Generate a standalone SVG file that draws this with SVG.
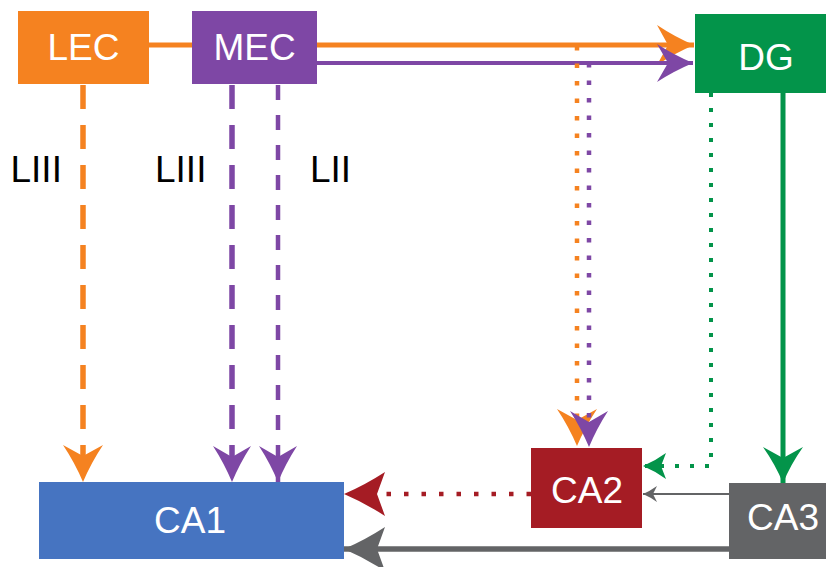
<svg xmlns="http://www.w3.org/2000/svg" width="826" height="567" viewBox="0 0 826 567">
  <style>
    .box-label { font-family: "Liberation Sans", Arial, Helvetica, sans-serif; font-size: 37px; fill: #ffffff; text-anchor: middle; }
    .layer { font-family: "Liberation Sans", Arial, Helvetica, sans-serif; font-size: 37px; fill: #000000; }
    .edge { fill: none; stroke-linecap: butt; }
    .orange { stroke: #F58220; }
    .purple { stroke: #7E47A5; }
    .green { stroke: #03944A; }
    .red { stroke: #A51C24; }
    .gray { stroke: #636466; }
    .dash-long { stroke-dasharray: 24 16; }
    .dash-short { stroke-dasharray: 15 15; }
    .dot { stroke-dasharray: 4.5 13; }
    .dot-green { stroke-dasharray: 4 11; }
  </style>
  <defs>
    <!-- concave arrowheads, tip at the path end -->
    <marker id="head-orange" markerUnits="userSpaceOnUse" viewBox="-40 -22 42 44" refX="0" refY="0" markerWidth="42" markerHeight="44" orient="auto" overflow="visible">
      <path d="M0,0 Q-19,-8 -37,-20 L-26,0 L-37,20 Q-19,8 0,0 Z" fill="#F58220"/>
    </marker>
    <marker id="head-purple" markerUnits="userSpaceOnUse" viewBox="-40 -22 42 44" refX="0" refY="0" markerWidth="42" markerHeight="44" orient="auto" overflow="visible">
      <path d="M0,0 Q-19,-8 -36,-19 L-25,0 L-36,19 Q-19,8 0,0 Z" fill="#7E47A5"/>
    </marker>
    <marker id="head-green" markerUnits="userSpaceOnUse" viewBox="-40 -22 42 44" refX="0" refY="0" markerWidth="42" markerHeight="44" orient="auto" overflow="visible">
      <path d="M0,0 Q-19,-8 -36,-20 L-25,0 L-36,20 Q-19,8 0,0 Z" fill="#03944A"/>
    </marker>
    <marker id="head-green-small" markerUnits="userSpaceOnUse" viewBox="-25 -14 27 28" refX="0" refY="0" markerWidth="27" markerHeight="28" orient="auto" overflow="visible">
      <path d="M0,0 Q-12,-5 -23,-13 L-18,0 L-23,13 Q-12,5 0,0 Z" fill="#03944A"/>
    </marker>
    <marker id="head-red" markerUnits="userSpaceOnUse" viewBox="-43 -24 45 48" refX="0" refY="0" markerWidth="45" markerHeight="48" orient="auto" overflow="visible">
      <path d="M0,0 Q-21,-9 -41,-22 L-33,0 L-41,22 Q-21,9 0,0 Z" fill="#A51C24"/>
    </marker>
    <marker id="head-gray" markerUnits="userSpaceOnUse" viewBox="-43 -24 45 48" refX="0" refY="0" markerWidth="45" markerHeight="48" orient="auto" overflow="visible">
      <path d="M0,0 Q-21,-9 -41,-22 L-33,0 L-41,22 Q-21,9 0,0 Z" fill="#636466"/>
    </marker>
    <marker id="head-gray-small" markerUnits="userSpaceOnUse" viewBox="-16 -10 18 20" refX="0" refY="0" markerWidth="18" markerHeight="20" orient="auto" overflow="visible">
      <path d="M0,0 Q-7,-3 -14,-8 L-10,0 L-14,8 Q-7,3 0,0 Z" fill="#636466"/>
    </marker>
  </defs>

  <!-- connectors -->
  <g id="connectors">
    <line class="edge orange" x1="149" y1="45" x2="192" y2="45" stroke-width="5"/>
    <line class="edge orange" x1="317" y1="45" x2="694" y2="45" stroke-width="5" marker-end="url(#head-orange)"/>
    <line class="edge purple" x1="317" y1="63" x2="693" y2="63" stroke-width="4" marker-end="url(#head-purple)"/>

    <line class="edge orange dot" x1="577" y1="46" x2="577" y2="446" stroke-width="4.5" marker-end="url(#head-orange)"/>
    <line class="edge purple dot" x1="589" y1="63" x2="589" y2="447" stroke-width="4.5" marker-end="url(#head-purple)"/>

    <line class="edge orange dash-long" x1="83" y1="85" x2="83" y2="482" stroke-width="5.5" marker-end="url(#head-orange)"/>
    <line class="edge purple dash-long" x1="232" y1="85" x2="232" y2="482" stroke-width="5.5" marker-end="url(#head-purple)"/>
    <line class="edge purple dash-short" x1="278" y1="85" x2="278" y2="482" stroke-width="4.5" marker-end="url(#head-purple)"/>

    <line class="edge green" x1="783" y1="93" x2="783" y2="483" stroke-width="5" marker-end="url(#head-green)"/>
    <polyline class="edge green dot-green" points="711,93 711,466 643,466" stroke-width="4" marker-end="url(#head-green-small)"/>

    <line class="edge gray" x1="729" y1="494" x2="643" y2="494" stroke-width="2.2" marker-end="url(#head-gray-small)"/>
    <line class="edge gray" x1="729" y1="549" x2="344" y2="549" stroke-width="5.5" marker-end="url(#head-gray)"/>
    <line class="edge red dot" x1="531" y1="494" x2="344" y2="494" stroke-width="4.5" marker-end="url(#head-red)"/>
  </g>

  <!-- layer labels -->
  <g id="labels">
    <text class="layer" x="10.5" y="182">LIII</text>
    <text class="layer" x="155" y="182">LIII</text>
    <text class="layer" x="310" y="182">LII</text>
  </g>

  <!-- nodes -->
  <g id="LEC">
    <rect x="18" y="11" width="131" height="73" fill="#F58220"/>
    <text class="box-label" x="83.5" y="60">LEC</text>
  </g>
  <g id="MEC">
    <rect x="192" y="11" width="125" height="73" fill="#7E47A5"/>
    <text class="box-label" x="254.5" y="60">MEC</text>
  </g>
  <g id="DG">
    <rect x="695" y="14" width="131" height="79" fill="#03944A"/>
    <text class="box-label" x="766" y="70">DG</text>
  </g>
  <g id="CA1">
    <rect x="39" y="482" width="305" height="77" fill="#4674C1"/>
    <text class="box-label" x="190" y="533">CA1</text>
  </g>
  <g id="CA2">
    <rect x="531" y="448" width="111" height="80" fill="#A51C24"/>
    <text class="box-label" x="587" y="503">CA2</text>
  </g>
  <g id="CA3">
    <rect x="729" y="483" width="97" height="76" fill="#636466"/>
    <text class="box-label" x="783" y="530">CA3</text>
  </g>
</svg>
